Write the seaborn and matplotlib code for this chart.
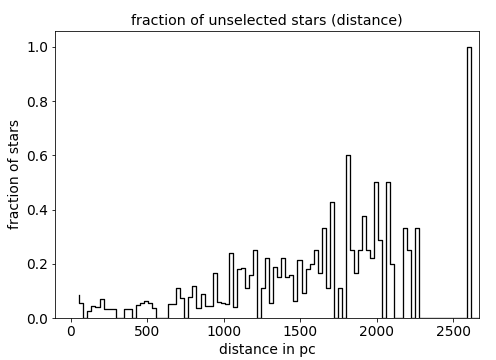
import numpy as np
import pandas as pd
import matplotlib
matplotlib.use("Agg")
import matplotlib.pyplot as plt
import seaborn as sns

# distance grid (pc): 100 step points
dist_start = 54.3
dist_step = 26.42
n_points = 100

fraction = [
    0.085,                                                      # start
    0.054, 0.0, 0.027, 0.044, 0.042, 0.071, 0.032, 0.035, 0.035, 0.0,
    0.0, 0.035, 0.033, 0.0, 0.047, 0.057, 0.062, 0.057, 0.036, 0.0,
    0.0, 0.0, 0.052, 0.050, 0.111, 0.074, 0.0, 0.077, 0.118, 0.038,
    0.087, 0.043, 0.043, 0.167, 0.060, 0.057, 0.050, 0.241, 0.042, 0.180,
    0.183, 0.111, 0.159, 0.250, 0.0, 0.111, 0.222, 0.054, 0.189, 0.153,
    0.222, 0.153, 0.160, 0.064, 0.214, 0.091, 0.181, 0.200, 0.250, 0.167,
    0.333, 0.111, 0.429, 0.0, 0.111, 0.0, 0.600, 0.250, 0.167, 0.250,
    0.375, 0.250, 0.222, 0.500, 0.286, 0.0, 0.500, 0.200, 0.0, 0.0,
    0.333, 0.250, 0.0, 0.333, 0.0, 0.0, 0.0, 0.0, 0.0, 0.0,
    0.0, 0.0, 0.0, 0.0, 0.0, 0.0, 1.0, 0.0, 0.0,
]

distance = dist_start + dist_step * np.arange(n_points)
df = pd.DataFrame({"distance": distance, "fraction": fraction})

fig = plt.figure(figsize=(496 / 72, 360 / 72), dpi=72)
ax = fig.add_axes([55 / 496, 42 / 360, 424 / 496, 287 / 360])

sns.lineplot(data=df, x="distance", y="fraction", ax=ax, color="black",
             linewidth=1.3, drawstyle="steps-pre", sort=True, estimator=None)

ax.set_xlim(-104.6, 2668)
ax.set_ylim(0, 1.059)
ax.set_xticks([0, 500, 1000, 1500, 2000, 2500])
ax.set_yticks([0.0, 0.2, 0.4, 0.6, 0.8, 1.0])
ax.set_xlabel("distance in pc", fontsize=13.9)
ax.set_ylabel("fraction of stars", fontsize=13.9)
ax.set_title("fraction of unselected stars (distance)", fontsize=14.2)
ax.tick_params(labelsize=13.9)

fig.savefig("out.png", dpi=72)
